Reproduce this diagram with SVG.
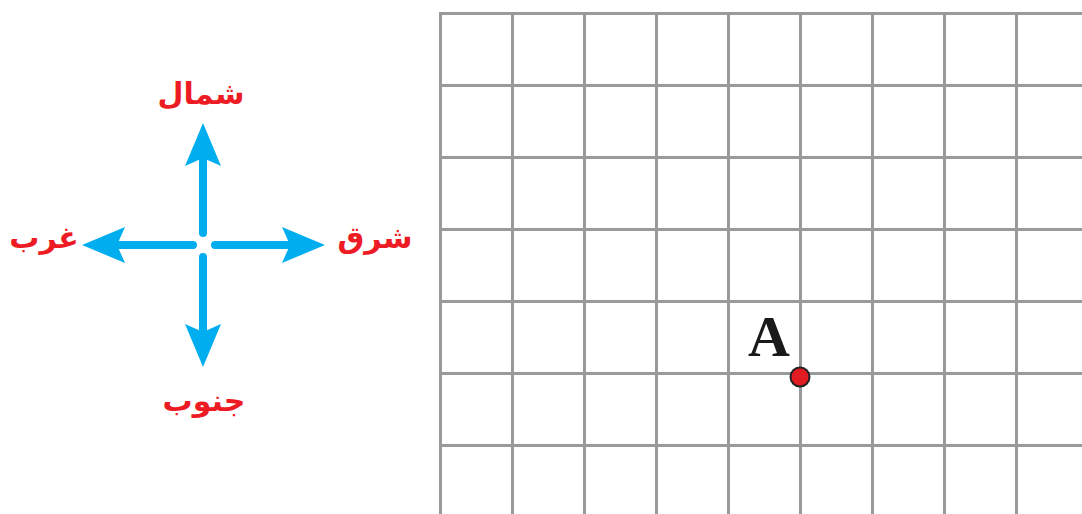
<svg xmlns="http://www.w3.org/2000/svg" width="1082" height="514" viewBox="0 0 1082 514">
<defs>
<style>
.g{stroke:#999a9c;stroke-width:3;fill:none}
.sh{stroke:#00aeef;stroke-width:8;stroke-linecap:round;fill:none}
.hd{fill:#00aeef}
.lb{font-family:"DejaVu Sans",sans-serif;font-weight:bold;font-size:30px;fill:#ed1c24;text-anchor:middle}
</style>
</defs>
<rect width="1082" height="514" fill="#fff"/>
<g id="grid">
<path class="g" d="M440.5 13.5V514M512.5 13.5V514M584.5 13.5V514M656.5 13.5V514M728.5 13.5V514M800.5 13.5V514M872.5 13.5V514M944.5 13.5V514M1016.5 13.5V514"/>
<path class="g" d="M439 13.5H1082M439 85.5H1082M439 157.5H1082M439 229.5H1082M439 301.5H1082M439 373.5H1082M439 445.5H1082"/>
</g>
<g id="compass">
<path class="sh" d="M203 233V150M193 245H110M215 245H298M203 257V340"/>
<path class="hd" d="M203 123L221 166L203 158L185 166Z"/>
<path class="hd" d="M82 245L125 227L117 245L125 263Z"/>
<path class="hd" d="M325 245L282 227L290 245L282 263Z"/>
<path class="hd" d="M203 367L221 324L203 332L185 324Z"/>
</g>
<g id="north"><text class="lb" x="201" y="104">شمال</text></g>
<g id="west"><text class="lb" x="44" y="248">غرب</text></g>
<g id="east"><text class="lb" x="375" y="248">شرق</text></g>
<g id="south"><text class="lb" x="204" y="411">جنوب</text></g>
<g id="pointA">
<text x="769" y="356" font-family="Liberation Serif,serif" font-weight="bold" font-size="58" fill="#1a1a1a" text-anchor="middle">A</text>
<circle cx="800" cy="377" r="9.5" fill="#e31b23" stroke="#222" stroke-width="2"/>
</g>
</svg>
